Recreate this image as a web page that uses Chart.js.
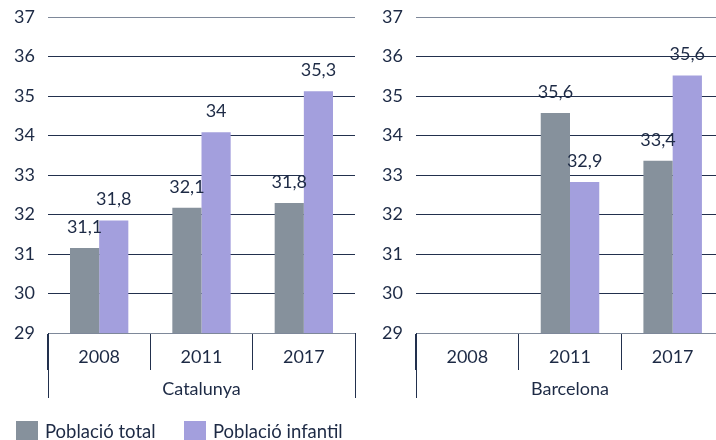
<!DOCTYPE html>
<html>
<head>
<meta charset="utf-8">
<script src="https://cdn.jsdelivr.net/npm/chart.js@4.4.1/dist/chart.umd.min.js"></script>
<style>
  body { margin: 0; width: 716px; height: 440px; overflow: hidden; background: #fff; position: relative; font-family: Lato, sans-serif; }
  .panel { position: absolute; top: 0; height: 440px; }
  #panelCat { left: 0; width: 358px; }
  #panelBcn { left: 368px; width: 356px; }
  .legend { position: absolute; top: 421px; height: 19px; display: flex; align-items: center; font-size: 18.5px; color: #1d2a45; white-space: nowrap; }
  .legend i { display: inline-block; width: 22px; height: 19px; margin-right: 7px; }
</style>
</head>
<body>
<div class="panel" id="panelCat"><canvas id="chartCat"></canvas></div>
<div class="panel" id="panelBcn"><canvas id="chartBcn"></canvas></div>
<div class="legend" style="left:16px"><i style="background:#86919c"></i>Població total</div>
<div class="legend" style="left:184px"><i style="background:#a39fdd"></i>Població infantil</div>

<script>
// categories
const years = ['2008', '2011', '2017'];
const seriesNames = ['Població total', 'Població infantil'];

// bar heights as drawn in the picture
const catTotal = [31.15, 32.17, 32.29];
const catInfantil = [31.85, 34.08, 35.12];
const bcnTotal = [null, 34.57, 33.36];
const bcnInfantil = [null, 32.82, 35.52];

// printed value labels
const catTotalLabels = ['31,1', '32,1', '31,8'];
const catInfantilLabels = ['31,8', '34', '35,3'];
const bcnTotalLabels = ['', '35,6', '33,4'];
const bcnInfantilLabels = ['', '32,9', '35,6'];

// y axis range
const yMin = 29;
const yMax = 37;

const textColor = '#1d2a45';
const darkLine = '#22304d';
const grayLine = '#7e8899';
const font = { family: 'Lato', size: 18 };

// value labels above each bar
const barLabels = {
  id: 'barLabels',
  afterDatasetsDraw(chart) {
    const ctx = chart.ctx;
    ctx.save();
    ctx.font = '18px Lato';
    ctx.fillStyle = textColor;
    ctx.textAlign = 'center';
    ctx.textBaseline = 'middle';
    chart.data.datasets.forEach((ds, i) => {
      chart.getDatasetMeta(i).data.forEach((bar, j) => {
        const txt = ds.labels[j];
        if (txt) ctx.fillText(txt, bar.x, bar.y - 21);
      });
    });
    ctx.restore();
  }
};

// long outer lines framing the group label
const outerLines = {
  id: 'outerLines',
  afterDraw(chart) {
    const ctx = chart.ctx;
    const a = chart.chartArea;
    const xs = chart.scales.x;
    ctx.save();
    ctx.strokeStyle = darkLine;
    ctx.lineWidth = 1;
    [a.left, a.right].forEach(x => {
      ctx.beginPath();
      ctx.moveTo(Math.round(x) + 0.5, a.bottom);
      ctx.lineTo(Math.round(x) + 0.5, xs.bottom);
      ctx.stroke();
    });
    ctx.restore();
  }
};

function makeChart(id, region, total, infantil, totalLabels, infantilLabels, padRight) {
  return new Chart(document.getElementById(id), {
    type: 'bar',
    data: {
      labels: years,
      datasets: [
        { label: seriesNames[0], data: total, labels: totalLabels, backgroundColor: '#86919c' },
        { label: seriesNames[1], data: infantil, labels: infantilLabels, backgroundColor: '#a39fdd' }
      ]
    },
    options: {
      responsive: true,
      maintainAspectRatio: false,
      animation: false,
      categoryPercentage: 0.57,
      barPercentage: 1,
      layout: { padding: { top: 17, right: padRight, bottom: 42, left: 0 } },
      plugins: { legend: { display: false }, tooltip: { enabled: false } },
      scales: {
        x: {
          offset: true,
          grid: { offset: true, drawOnChartArea: false, drawTicks: true, tickLength: 37, color: darkLine },
          border: { display: true, color: grayLine },
          ticks: { padding: -24, font: font, color: textColor },
          title: { display: true, text: region, font: font, color: textColor, padding: { top: 0, bottom: -2 } },
          afterFit(s) { s.height = 65; s.paddingLeft = 0; s.paddingRight = 0; }
        },
        y: {
          min: yMin,
          max: yMax,
          ticks: { stepSize: 1, padding: 13, font: { family: 'Lato', size: 18 }, color: textColor },
          grid: {
            drawTicks: false,
            color: c => (c.tick && (c.tick.value === yMax || c.tick.value === yMin)) ? grayLine : darkLine
          },
          border: { display: false },
          afterFit(s) { s.width = 48; s.paddingTop = 0; s.paddingBottom = 0; }
        }
      }
    },
    plugins: [barLabels, outerLines]
  });
}

makeChart('chartCat', 'Catalunya', catTotal, catInfantil, catTotalLabels, catInfantilLabels, 3);
makeChart('chartBcn', 'Barcelona', bcnTotal, bcnInfantil, bcnTotalLabels, bcnInfantilLabels, 0);
</script>
</body>
</html>
